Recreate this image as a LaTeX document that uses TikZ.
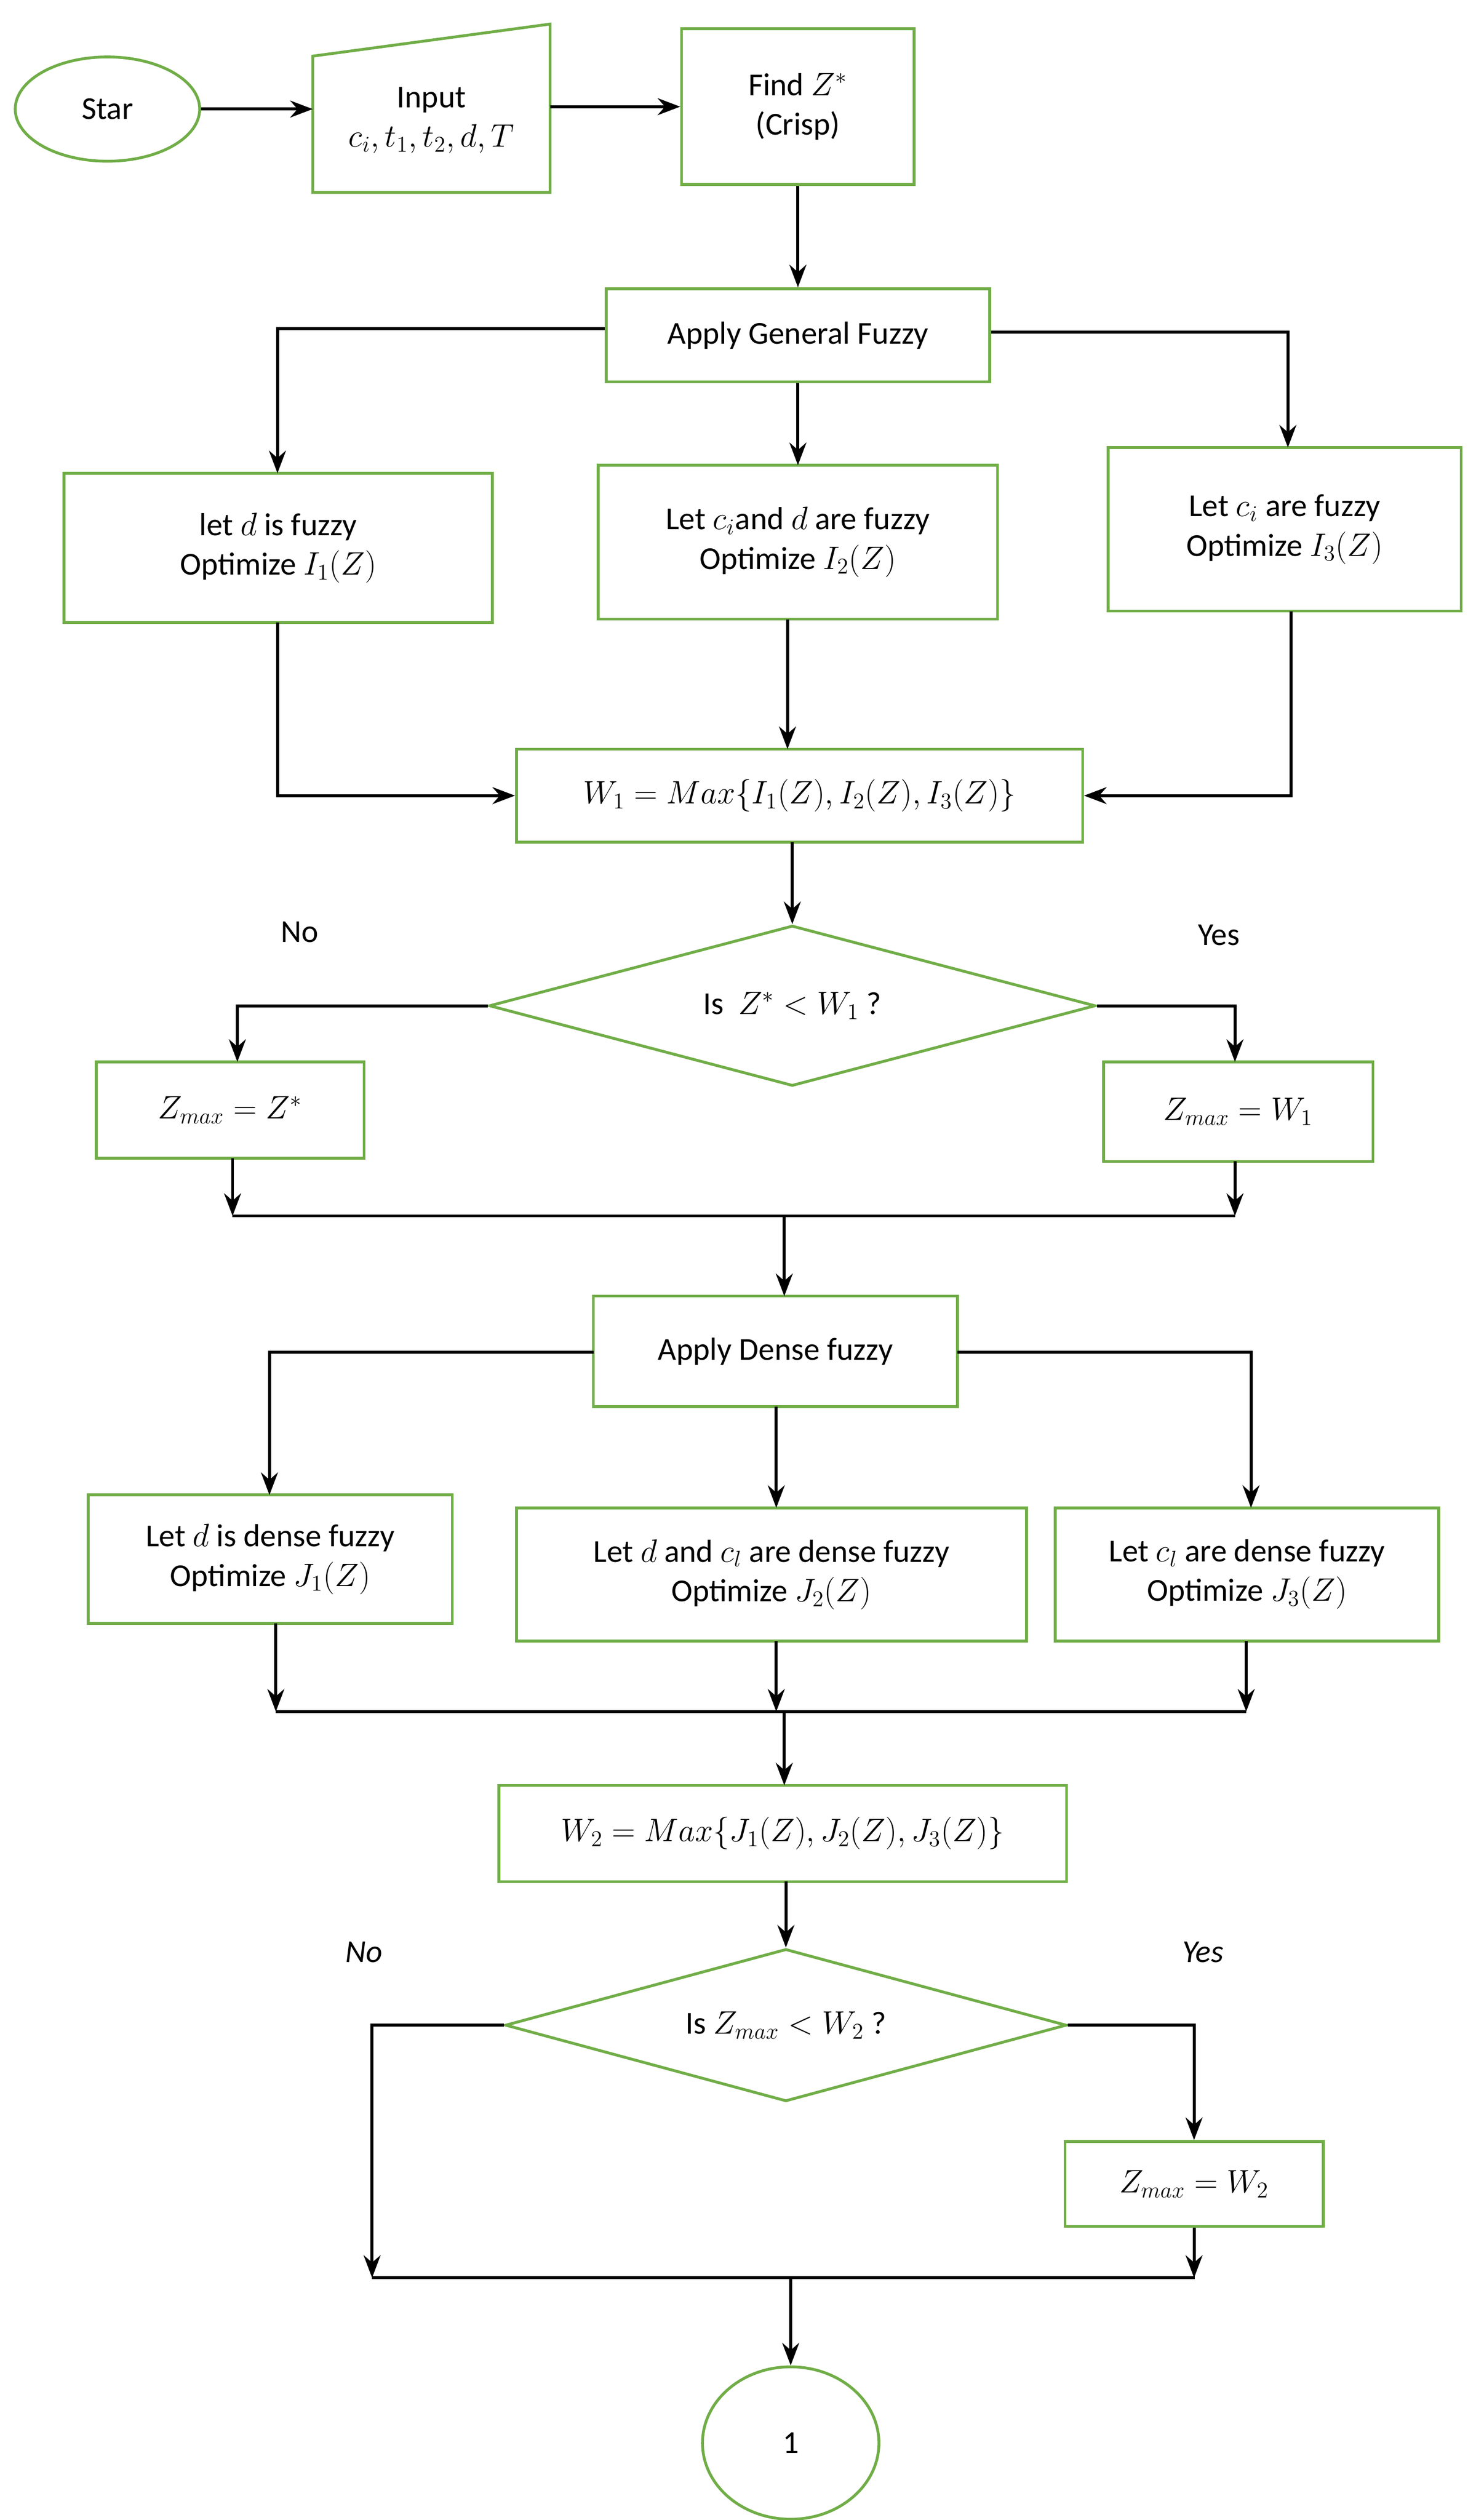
\documentclass[tikz,border=0pt]{standalone}
\usepackage{fontspec}
\setmainfont{Carlito}
\usetikzlibrary{shapes.geometric,arrows.meta}
\definecolor{gr}{RGB}{112,173,71}
\begin{document}
\begin{tikzpicture}[x=0.03cm,y=-0.03cm,
 box/.style={draw=gr,line width=1.5pt,fill=white,align=center,font=\fontsize{17}{21}\selectfont,inner sep=0pt},
 dia/.style={box,diamond,inner sep=0pt},
 ell/.style={box,ellipse},
 ar/.style={line width=1.6pt,-{Stealth[length=12pt,width=9pt]}},
 ln/.style={line width=1.6pt},
 lab/.style={font=\fontsize{17}{21}\selectfont}]
\useasboundingbox (0,0) rectangle (920,1571);
\node[ell,minimum width=3.45cm,minimum height=1.95cm] (st) at (67,68) {Star};
\draw[draw=gr,line width=1.5pt] (195,35)--(343,15)--(343,120)--(195,120)--cycle;
\node[align=center,font=\fontsize{17}{21}\selectfont,minimum width=4.4cm,minimum height=2.6cm] (in) at (269,75) {Input\\$c_i,t_1,t_2,d,T$};
\node[box,minimum width=4.35cm,minimum height=2.91cm] (fz) at (497.5,66.5) {Find $Z^*$\\(Crisp)};
\node[box,minimum width=7.17cm,minimum height=1.74cm] (agf) at (497.5,209) {Apply General Fuzzy};
\node[box,minimum width=8.01cm,minimum height=2.79cm] (b1) at (173.5,341.5) {let $d$ is fuzzy\\Optimize $I_1(Z)$};
\node[box,minimum width=7.47cm,minimum height=2.88cm] (b2) at (497.5,338) {Let $c_i$and $d$ are fuzzy\\Optimize $I_2(Z)$};
\node[box,minimum width=6.6cm,minimum height=3.06cm] (b3) at (801,330) {Let $c_i$ are fuzzy\\Optimize $I_3(Z)$};
\node[box,minimum width=10.59cm,minimum height=1.74cm] (w1) at (498.5,496) {$W_1 = Max\{I_1(Z),I_2(Z),I_3(Z)\}$};
\node[dia,minimum width=11.34cm,minimum height=3cm,shape aspect=3.78] (d1) at (494,627) {Is \ $Z^*<W_1$ ?};
\node[lab] (no1) at (187,581) {No};
\node[lab] (yes1) at (760,583) {Yes};
\node[box,minimum width=5.01cm,minimum height=1.8cm] (z1) at (143.5,692) {$Z_{max}=Z^*$};
\node[box,minimum width=5.04cm,minimum height=1.86cm] (z2) at (772,693) {$Z_{max}=W_1$};
\node[box,minimum width=6.81cm,minimum height=2.07cm] (adf) at (483.5,842.5) {Apply Dense fuzzy};
\node[box,minimum width=6.81cm,minimum height=2.4cm] (c1) at (168.5,972) {Let $d$ is dense fuzzy\\Optimize $J_1(Z)$};
\node[box,minimum width=9.54cm,minimum height=2.49cm] (c2) at (481,981.5) {Let $d$ and $c_l$ are dense fuzzy\\Optimize $J_2(Z)$};
\node[box,minimum width=7.17cm,minimum height=2.49cm] (c3) at (777.5,981.5) {Let $c_l$ are dense fuzzy\\Optimize $J_3(Z)$};
\node[box,minimum width=10.62cm,minimum height=1.8cm] (w2) at (488,1143) {$W_2 = Max\{J_1(Z),J_2(Z),J_3(Z)\}$};
\node[dia,minimum width=10.5cm,minimum height=2.85cm,shape aspect=3.68] (d2) at (490,1262.5) {Is $Z_{max}<W_2$ ?};
\node[lab,font=\fontsize{17}{21}\selectfont\itshape] (no2) at (227,1217) {No};
\node[lab,font=\fontsize{17}{21}\selectfont\itshape] (yes2) at (750,1217) {Yes};
\node[box,minimum width=4.83cm,minimum height=1.59cm] (z3) at (744.5,1361.5) {$Z_{max}=W_2$};
\node[ell,minimum width=3.3cm,minimum height=2.85cm] (en) at (493,1523) {1};
\coordinate (m1) at (489,758);
\coordinate (m2) at (489,1067);
\coordinate (m3) at (493,1420);
% top row
\draw[ar] (st.east) -- (195,68);
\draw[ar] (343,66.5) -- (fz.west);
\draw[ar] (fz.south) -- (agf.north);
% general fuzzy
\draw[ar] (agf.west |- 0,205) -| (173,295);
\draw[ar] (agf.south) -- (497.5,290);
\draw[ar] (agf.east |- 0,207) -| (803,279);
\draw[ar] (173,388) |- (w1.west);
\draw[ar] (491,386) -- (491,467);
\draw[ar] (805,381) |- (w1.east);
\draw[ar] (494,525) -- (d1.north);
\draw[ar] (d1.west) -| (148,662);
\draw[ar] (d1.east) -| (770,662);
\draw[ar] (145,722) -- (145,758);
\draw[ar] (770,724) -- (770,758);
\draw[ln] (145,758) -- (770,758);
\draw[ar] (m1) -- (489,808);
% dense
\draw[ar] (370,843) -| (168,932);
\draw[ar] (484,877) -- (484,940);
\draw[ar] (597,843) -| (780,940);
\draw[ar] (172,1012) -- (172,1067);
\draw[ar] (484,1023) -- (484,1067);
\draw[ar] (777,1023) -- (777,1067);
\draw[ln] (172,1067) -- (777,1067);
\draw[ar] (m2) -- (489,1113);
\draw[ar] (490,1173) -- (d2.north);
\draw[ar] (d2.west) -| (232,1420);
\draw[ar] (d2.east) -| (z3.north);
\draw[ar] (z3.south) -- (744.5,1420);
\draw[ln] (232,1420) -- (745,1420);
\draw[ar] (m3) -- (en.north);
\end{tikzpicture}
\end{document}
